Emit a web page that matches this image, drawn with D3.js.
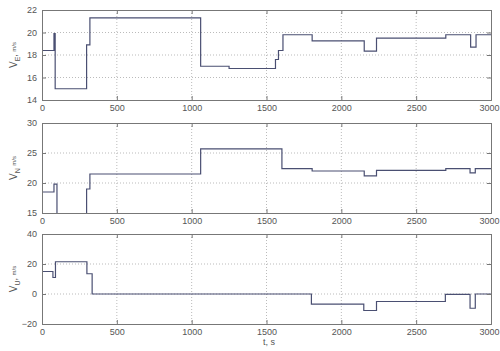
<!DOCTYPE html>
<html>
<head>
<meta charset="utf-8">
<script src="https://cdn.jsdelivr.net/npm/d3@7"></script>
<style>
  body { margin: 0; background: #fff; }
  svg { display: block; font-family: "Liberation Sans", Arial, sans-serif; }
  .tick text { fill: #555; font-size: 9px; }
  .grid line { stroke: #bbb; stroke-dasharray: 1,2; }
</style>
</head>
<body>
<svg width="500" height="351"></svg>
<script>
// time ticks shared by all panels
const timeTicks = [0, 500, 1000, 1500, 2000, 2500, 3000];

// V_E, m/s
const timeE = [0, 2, 80, 88, 298, 320, 1060, 1250, 1560, 1580, 1610, 1805, 2153, 2235, 2698, 2864, 2900, 3000];
const velE  = [20, 18.4, 19.9, 15, 18.9, 21.3, 17, 16.8, 17.6, 18.4, 19.8, 19.25, 18.35, 19.5, 19.8, 18.7, 19.8, 19.8];
const ticksE = [14, 16, 18, 20, 22];

// V_N, m/s
const timeN = [0, 2, 80, 100, 298, 320, 1060, 1603, 1805, 2153, 2235, 2698, 2860, 2895, 3000];
const velN  = [20, 18.5, 19.8, 13, 19, 21.5, 25.7, 22.4, 22, 21.2, 22.1, 22.4, 21.7, 22.4, 22.4];
const ticksN = [15, 20, 25, 30];

// V_U, m/s
const timeU = [0, 2, 73, 90, 300, 335, 1800, 2150, 2235, 2695, 2860, 2895, 3000];
const velU  = [10.5, 15, 11, 21.5, 13.5, 0, -6.8, -11, -5, -0.2, -9.5, 0, 0];
const ticksU = [-20, 0, 20, 40];

const svg = d3.select('svg');
const left = 42, right = 491;

const x = d3.scaleLinear().domain([0, 3000]).range([left, right]);

const panels = [
  { t: timeE, v: velE, ticks: ticksE, top: 10, bottom: 100, sub: 'E', sep: ',' },
  { t: timeN, v: velN, ticks: ticksN, top: 123, bottom: 213, sub: 'N', sep: '' },
  { t: timeU, v: velU, ticks: ticksU, top: 234, bottom: 324, sub: 'U', sep: ',' }
];

panels.forEach((p, i) => {
  const y = d3.scaleLinear()
    .domain([p.ticks[0], p.ticks[p.ticks.length - 1]])
    .range([p.bottom, p.top]);
  const h = p.bottom - p.top;

  // grid
  svg.append('g').attr('class', 'grid')
    .selectAll('line.v').data(timeTicks.slice(1, -1)).enter().append('line')
    .attr('x1', d => x(d)).attr('x2', d => x(d))
    .attr('y1', p.top).attr('y2', p.bottom);
  svg.append('g').attr('class', 'grid')
    .selectAll('line.h').data(p.ticks.slice(1, -1)).enter().append('line')
    .attr('x1', left).attr('x2', right)
    .attr('y1', d => y(d)).attr('y2', d => y(d));

  // clipped trace
  const clipId = 'clip' + i;
  svg.append('clipPath').attr('id', clipId)
    .append('rect').attr('x', left).attr('y', p.top)
    .attr('width', right - left).attr('height', h);

  const pts = p.t.map((t, k) => [t, p.v[k]]);
  const line = d3.line()
    .x(d => x(d[0])).y(d => y(d[1]))
    .curve(d3.curveStepAfter);
  svg.append('path')
    .datum(pts)
    .attr('clip-path', `url(#${clipId})`)
    .attr('fill', 'none')
    .attr('stroke', '#4a4f72')
    .attr('stroke-width', 1.2)
    .attr('d', line);

  // axes, ticks pointing inward
  const ax = svg.append('g').attr('transform', `translate(0,${p.bottom})`)
    .call(d3.axisBottom(x).tickValues(timeTicks).tickSize(-4).tickPadding(5).tickFormat(d3.format('d')));
  // last label would run past the edge, keep it inside
  ax.selectAll('.tick').filter(d => d === 3000).select('text')
    .attr('text-anchor', 'end').attr('dx', 8);
  const axTop = svg.append('g').attr('transform', `translate(0,${p.top})`)
    .call(d3.axisTop(x).tickValues(timeTicks).tickSize(-4).tickFormat(''));
  const ay = svg.append('g').attr('transform', `translate(${left},0)`)
    .call(d3.axisLeft(y).tickValues(p.ticks).tickSize(-4).tickPadding(5));
  const ayR = svg.append('g').attr('transform', `translate(${right},0)`)
    .call(d3.axisRight(y).tickValues(p.ticks).tickSize(-4).tickFormat(''));
  [ax, axTop, ay, ayR].forEach(g => {
    g.selectAll('path, line').attr('stroke', '#777');
  });

  // y label
  const lab = svg.append('text')
    .attr('transform', `translate(17,${(p.top + p.bottom) / 2}) rotate(-90)`)
    .attr('text-anchor', 'middle')
    .attr('fill', '#555')
    .attr('font-size', 10);
  lab.append('tspan').text('V');
  lab.append('tspan').attr('font-size', 7).attr('dy', 3).text(p.sub);
  lab.append('tspan').attr('font-size', 9).attr('dy', -3).text(p.sep + ' ');
  lab.append('tspan').attr('font-size', 6).attr('dy', -1).text('m/s');
});

svg.append('text')
  .attr('x', 263).attr('y', 345)
  .attr('fill', '#555').attr('font-size', 9)
  .text('t, s');
</script>
</body>
</html>
